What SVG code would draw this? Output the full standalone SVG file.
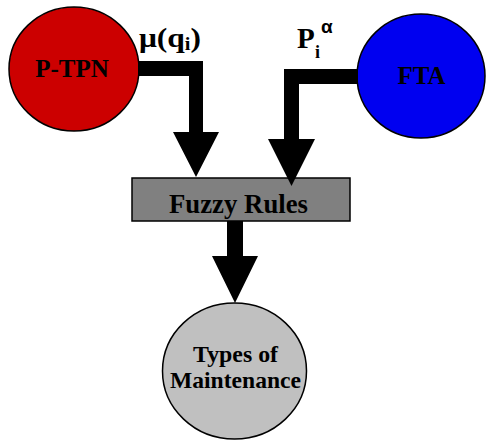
<svg xmlns="http://www.w3.org/2000/svg" width="486" height="442" viewBox="0 0 486 442">
  <style>
    .node { stroke: #000; stroke-width: 1.5; }
    .lbl { font-family: "Liberation Serif", "Times New Roman", serif; font-weight: bold; fill: #000; }
    .arrow { fill: #000; stroke: none; }
  </style>
  <rect width="486" height="442" fill="#fff"/>

  <g id="node-ptpn">
    <ellipse class="node" cx="74" cy="69" rx="65" ry="62" fill="#cc0000"/>
    <text class="lbl" x="72" y="77" font-size="25" text-anchor="middle">P-TPN</text>
  </g>

  <g id="node-fta">
    <ellipse class="node" cx="421" cy="76" rx="64" ry="62" fill="#0000f0"/>
    <text class="lbl" x="421.5" y="84" font-size="25" text-anchor="middle">FTA</text>
  </g>

  <g id="node-fuzzy-rules">
    <rect class="node" x="132" y="178" width="218" height="43" fill="#808080"/>
    <text class="lbl" x="238.5" y="213" font-size="27" text-anchor="middle" textLength="139" lengthAdjust="spacingAndGlyphs" fill="#1a1a1a">Fuzzy Rules</text>
  </g>

  <g id="node-maintenance">
    <ellipse class="node" cx="234.5" cy="371" rx="72" ry="68" fill="#c0c0c0"/>
    <text class="lbl" x="235.5" y="362" font-size="24" text-anchor="middle" textLength="85" lengthAdjust="spacingAndGlyphs">Types of</text>
    <text class="lbl" x="235.5" y="388" font-size="24" text-anchor="middle" textLength="131" lengthAdjust="spacingAndGlyphs">Maintenance</text>
  </g>

  <g id="connectors">
    <!-- P-TPN to Fuzzy Rules -->
    <polygon class="arrow" points="138,61 203,61 203,132 219,132 196,177 173,132 189,132 189,76 138,76"/>
    <!-- FTA to Fuzzy Rules -->
    <polygon class="arrow" points="358,69 284,69 284,139 268,139 291.5,186 315,139 299,139 299,84 358,84"/>
    <!-- Fuzzy Rules to Types of Maintenance -->
    <polygon class="arrow" points="227,221 243,221 243,256 258,256 235,303 212,256 227,256"/>
  </g>

  <g id="labels">
    <text class="lbl" x="139" y="47" font-size="28" textLength="62" lengthAdjust="spacingAndGlyphs">μ(q<tspan font-size="18" dy="3">i</tspan><tspan dy="-3">)</tspan></text>
    <text class="lbl" x="297" y="48" font-size="29">P</text>
    <text class="lbl" x="315" y="58" font-size="18">i</text>
    <text x="321" y="33" font-size="19" font-family="Liberation Sans, Arial, sans-serif" font-weight="bold">α</text>
  </g>
</svg>
